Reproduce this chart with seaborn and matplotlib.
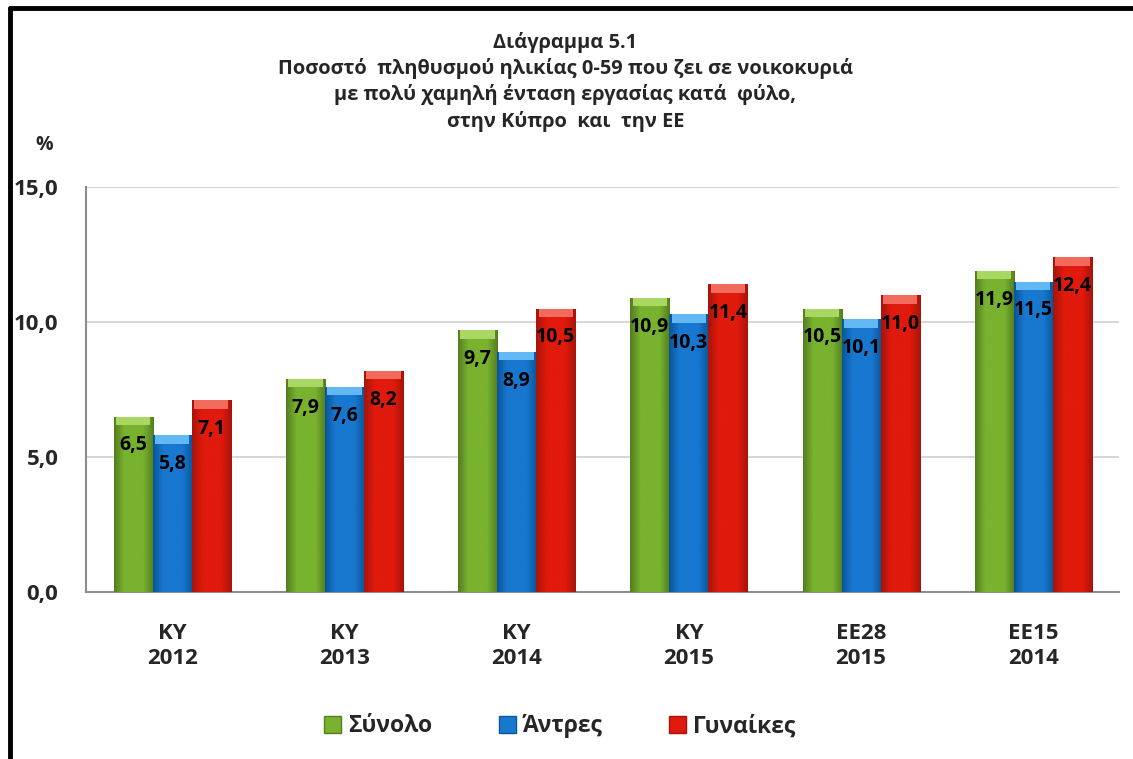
import numpy as np
import pandas as pd
import matplotlib
matplotlib.use("Agg")
import matplotlib.pyplot as plt
from matplotlib.lines import Line2D
from matplotlib.patches import Rectangle
from matplotlib.colors import to_rgb
import seaborn as sns

# Chart data
groups = ['ΚΥ\n2012', 'ΚΥ\n2013', 'ΚΥ\n2014', 'ΚΥ\n2015', 'ΕΕ28\n2015', 'ΕΕ15\n2014']
series = ['Σύνολο', 'Άντρες', 'Γυναίκες']
total = [6.5, 7.9, 9.7, 10.9, 10.5, 11.9]
men = [5.8, 7.6, 8.9, 10.3, 10.1, 11.5]
women = [7.1, 8.2, 10.5, 11.4, 11.0, 12.4]
yticks = [0, 5, 10, 15]

colors = ['#78b22f', '#1878d0', '#e01a0d']
light = ['#a9d862', '#62b8f2', '#f26a5c']
dark = ['#557f1f', '#0b559c', '#a8140a']

df = pd.DataFrame({
    'group': groups * 3,
    'series': [s for s in series for _ in groups],
    'value': total + men + women,
})

sns.set_style('white')
plt.rcParams['font.family'] = ['Open Sans', 'DejaVu Sans']
plt.rcParams['font.weight'] = 'bold'

fig = plt.figure(figsize=(11.33, 7.59), dpi=100)
ax = fig.add_axes([0.076, 0.22, 0.912, 0.5336])

sns.barplot(data=df, x='group', y='value', hue='series', palette=colors,
            width=0.68, gap=0, ax=ax, legend=False, zorder=2)

ax.set_ylim(0, 15)
ax.set_xlim(-0.5, len(groups) - 0.5)

# shading to mimic the bevelled bars
for i, cont in enumerate(ax.containers):
    c0 = np.array(to_rgb(dark[i]))
    c1 = np.array(to_rgb(colors[i]))
    t = np.concatenate([np.linspace(0, 1, 12), np.ones(20), np.linspace(1, 0, 12)])
    grad = (c0[None, :] * (1 - t[:, None]) + c1[None, :] * t[:, None])[None, :, :]
    for bar in cont:
        x, w, h = bar.get_x(), bar.get_width(), bar.get_height()
        im = ax.imshow(grad, extent=[x, x + w, 0, h], aspect='auto', zorder=3)
        im.set_clip_path(bar)
        cap = Rectangle((x + w * 0.06, h - 0.32), w * 0.88, 0.32,
                        facecolor=light[i], edgecolor='none', zorder=4)
        ax.add_patch(cap)
    labels = [f"{v:.1f}".replace('.', ',') for v in cont.datavalues]
    ax.bar_label(cont, labels=labels, padding=-28, fontsize=14,
                 fontweight='bold', color='black', zorder=6)

ax.set_xlim(-0.5, len(groups) - 0.5)
ax.set_ylim(0, 15)
ax.set_aspect('auto')

ax.set_yticks(yticks)
ax.set_yticklabels([f"{v:.1f}".replace('.', ',') for v in yticks],
                   fontsize=16, fontweight='bold')
ax.tick_params(axis='x', labelsize=16, pad=22, length=0)
ax.tick_params(axis='y', pad=20, length=0)
for lbl in ax.get_xticklabels():
    lbl.set_linespacing(1.3)
ax.set_xlabel('')
ax.set_ylabel('')
ax.yaxis.grid(True, color='#d0d0d0', linewidth=1.2, zorder=0)
ax.set_axisbelow(True)
for s in ['top', 'right']:
    ax.spines[s].set_visible(False)
for s in ['left', 'bottom']:
    ax.spines[s].set_color('#8c8c8c')
    ax.spines[s].set_linewidth(1.5)

fig.text(0.499, 0.958,
         'Διάγραμμα 5.1\nΠοσοστό  πληθυσμού ηλικίας 0-59 που ζει σε νοικοκυριά\n'
         'με πολύ χαμηλή ένταση εργασίας κατά  φύλο,\nστην Κύπρο  και  την ΕΕ',
         ha='center', va='top', fontsize=14.4, fontweight='bold', linespacing=1.33)
fig.text(0.039, 0.809, '%', ha='center', va='center', fontsize=14, fontweight='bold')

handles = [Rectangle((0, 0), 1, 1, facecolor=c, edgecolor=d)
           for c, d in zip(colors, dark)]
fig.legend(handles, series, loc='center', bbox_to_anchor=(0.494, 0.043),
           ncol=3, frameon=False, handlelength=0.75, handleheight=0.75,
           handletextpad=0.3, columnspacing=2.9, prop={'weight': 'bold', 'size': 16.5})

# figure frame (left and top edges visible)
fig.add_artist(Line2D([0.0085, 0.0085], [0, 0.99], transform=fig.transFigure,
                      color='black', linewidth=3.5))
fig.add_artist(Line2D([0.0085, 1.0], [0.99, 0.99], transform=fig.transFigure,
                      color='black', linewidth=3.5))

fig.savefig('out.png', dpi=100)
